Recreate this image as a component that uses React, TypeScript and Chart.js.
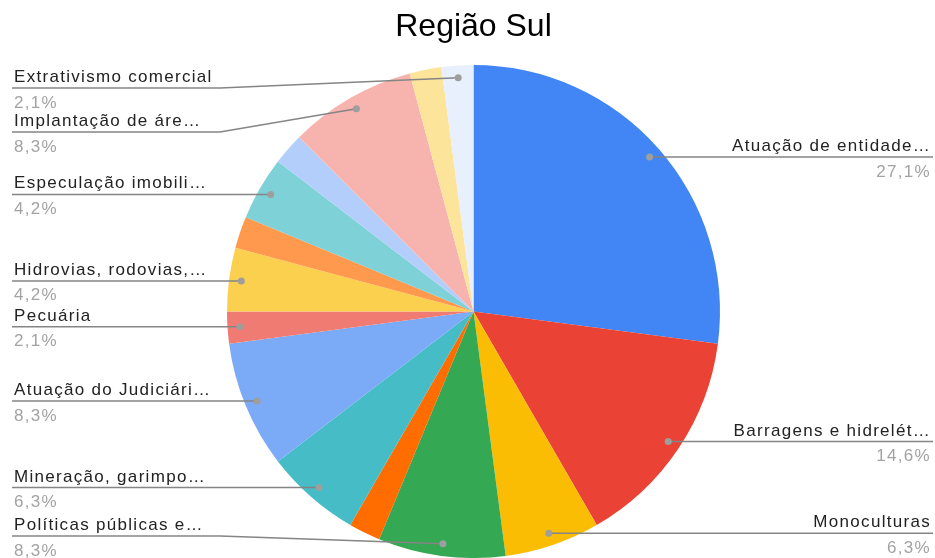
import { useEffect, useRef } from "react";
import { Chart, registerables } from "chart.js";

Chart.register(...registerables);

const titulo = "Região Sul";

// Categorias (texto como aparece no gráfico, truncado)
const categorias = [
  "Atuação de entidade…",
  "Barragens e hidrelét…",
  "Monoculturas",
  "Políticas públicas e…",
  "Sem rótulo 1",
  "Mineração, garimpo…",
  "Atuação do Judiciári…",
  "Pecuária",
  "Hidrovias, rodovias,…",
  "Sem rótulo 2",
  "Especulação imobili…",
  "Sem rótulo 3",
  "Implantação de áre…",
  "Sem rótulo 4",
  "Extrativismo comercial",
];

// Ocorrências (cada fatia é múltiplo de 1/48: 27,1% = 13/48, 2,1% = 1/48 ...)
const ocorrencias = [13, 7, 3, 4, 1, 3, 4, 1, 2, 1, 2, 1, 4, 1, 1];

// Quais fatias têm rótulo visível
const rotuloVisivel = [
  true, true, true, true, false, true, true, true, true, false, true, false, true, false, true,
];

const cores = [
  "#4285F4",
  "#EA4335",
  "#FBBC04",
  "#34A853",
  "#FF6D01",
  "#46BDC6",
  "#7BAAF7",
  "#F07B72",
  "#FCD04F",
  "#FF994D",
  "#7ED1D7",
  "#B3CEFB",
  "#F7B4AE",
  "#FDE49B",
  "#E8F0FE",
];

const FONT = "'Liberation Sans', Arial, Helvetica, sans-serif";

const rotulosPlugin = {
  id: "rotulosExternos",
  afterDatasetsDraw(chart: any) {
    const ctx: CanvasRenderingContext2D = chart.ctx;
    const meta = chart.getDatasetMeta(0);
    const total = ocorrencias.reduce((a, b) => a + b, 0);
    const W = chart.width;
    const items: any[] = [];
    meta.data.forEach((arc: any, i: number) => {
      if (!rotuloVisivel[i]) return;
      const p = arc.getProps(["x", "y", "startAngle", "endAngle", "outerRadius"], true);
      const mid = (p.startAngle + p.endAngle) / 2;
      const r = p.outerRadius * 0.95;
      const ax = p.x + Math.cos(mid) * r;
      const ay = p.y + Math.sin(mid) * r;
      items.push({ i, ax, ay, left: Math.cos(mid) < 0, y: ay });
    });
    const top = chart.chartArea.top + 23;
    const bottom = chart.chartArea.bottom - 22;
    const gap = 44;
    for (const side of [true, false]) {
      const list = items.filter((it) => it.left === side).sort((a, b) => a.ay - b.ay);
      let prev = -Infinity;
      for (const it of list) {
        it.y = Math.max(it.ay, top, prev + gap);
        prev = it.y;
      }
      let next = Infinity;
      for (let k = list.length - 1; k >= 0; k--) {
        const it = list[k];
        it.y = Math.min(it.y, bottom, next - gap);
        next = it.y;
      }
    }
    const bend = 208;
    ctx.save();
    for (const it of items) {
      const startX = it.left ? 12 : W - 2;
      const bendX = it.left ? 12 + bend : W - 2 - bend;
      ctx.beginPath();
      ctx.strokeStyle = "#858585";
      ctx.lineWidth = 1.5;
      ctx.moveTo(startX, it.y);
      ctx.lineTo(bendX, it.y);
      ctx.lineTo(it.ax, it.ay);
      ctx.stroke();
      ctx.beginPath();
      ctx.fillStyle = "#9e9e9e";
      ctx.arc(it.ax, it.ay, 3.5, 0, Math.PI * 2);
      ctx.fill();
    }
    ctx.font = `17px ${FONT}`;
    (ctx as any).letterSpacing = "1.3px";
    ctx.textBaseline = "alphabetic";
    for (const it of items) {
      const tx = it.left ? 14 : W - 4;
      ctx.textAlign = it.left ? "left" : "right";
      ctx.fillStyle = "#222222";
      ctx.fillText(categorias[it.i], tx, it.y - 6);
      const pct = ((ocorrencias[it.i] / total) * 100).toFixed(1).replace(".", ",") + "%";
      ctx.fillStyle = "#a3a3a3";
      ctx.fillText(pct, tx, it.y + 19.5);
    }
    ctx.restore();
  },
};

export default function App() {
  const ref = useRef<HTMLCanvasElement | null>(null);
  useEffect(() => {
    if (!ref.current) return;
    const chart = new Chart(ref.current, {
      type: "pie",
      data: {
        labels: categorias,
        datasets: [
          {
            data: ocorrencias,
            backgroundColor: cores,
            borderWidth: 0,
          },
        ],
      },
      options: {
        responsive: false,
        animation: false,
        devicePixelRatio: 1,
        layout: { padding: { top: 0, left: 12, right: 0, bottom: 0 } },
        plugins: {
          legend: { display: false },
          tooltip: { enabled: false },
          title: {
            display: true,
            text: titulo,
            color: "#000000",
            font: { family: FONT, size: 32, weight: "normal" },
            padding: { top: 8, bottom: 18.6 },
          },
        },
      },
      plugins: [rotulosPlugin],
    });
    return () => chart.destroy();
  }, []);
  return (
    <div style={{ position: "absolute", left: 0, top: 0, width: 935, height: 558, background: "#fff" }}>
      <canvas ref={ref} width={935} height={558} />
    </div>
  );
}
